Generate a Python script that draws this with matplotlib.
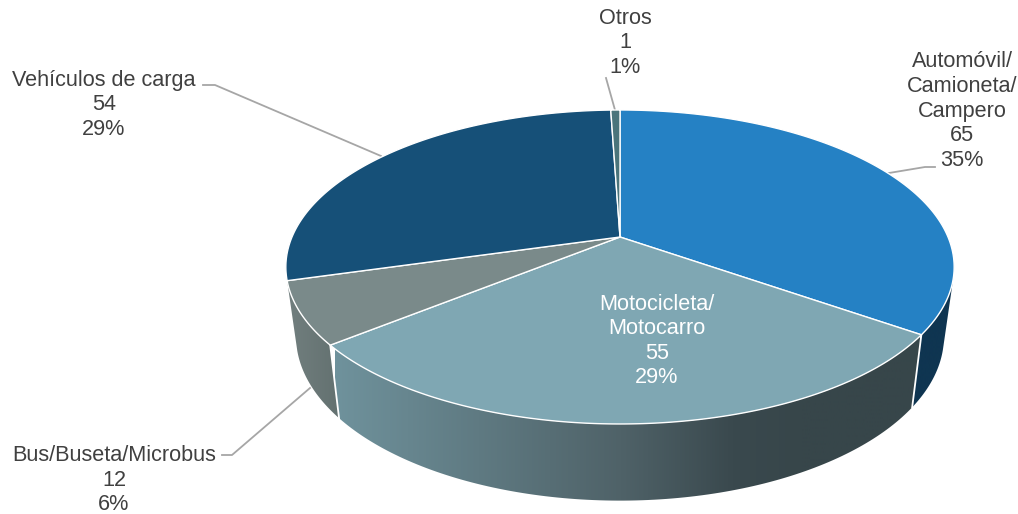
import numpy as np
import matplotlib
matplotlib.use('Agg')
import matplotlib.pyplot as plt
from matplotlib.colors import LinearSegmentedColormap
from matplotlib.patches import Polygon

plt.rcParams['font.family'] = ['Liberation Sans', 'DejaVu Sans']

# Data #

names = ['Automóvil/\nCamioneta/\nCampero', 'Motocicleta/\nMotocarro', 'Bus/Buseta/Microbus', 'Vehículos de carga', 'Otros']
values = [65, 55, 12, 54, 1]
top_colors = ['#2581c4', '#7fa7b3', '#7a8a8a', '#165078', '#4a747b']
text_colors = ['#404040', '#ffffff', '#404040', '#404040', '#404040']
label_pos = [(962, 111), (657, 341), (114, 480), (104, 105), (625, 43)]
leaders = [
    [(935, 167), (925, 167), (889, 173)],
    None,
    [(222, 455), (232, 455), (310, 388)],
    [(203, 85), (215, 85), (381, 156)],
    [(606, 78), (615, 110)],
]

# Pie projection (pixels) #

cx = 620
persp = -0.191
top_r, top_a, top_b = 328, 237, 106
low_r, low_a, low_b = 318, 305, 100
white = '#ffffff'

def rim(deg, r, a, b):
    t = np.radians(deg)
    u, v = np.sin(t), -np.cos(t)
    d = 1 + persp * v
    return np.column_stack((cx + r * u / d, (a + b * v) / d))

def top_rim(deg):
    return rim(deg, top_r, top_a, top_b)

def low_rim(deg):
    return rim(deg, low_r, low_a, low_b)

def side_poly(start, end):
    deg = np.linspace(start, end, 120)
    return np.vstack((top_rim(deg), low_rim(deg)[::-1]))

def draw_side(ax, start, end, stops, x0, x1):
    cmap = LinearSegmentedColormap.from_list('side', stops)
    img = ax.imshow(np.linspace(0, 1, 512).reshape(1, -1), cmap=cmap, extent=(x0, x1, 514, 0),
                    aspect='auto', zorder=2, interpolation='bilinear')
    clip = Polygon(side_poly(start, end), closed=True, transform=ax.transData, fc='none', ec='none')
    ax.add_patch(clip)
    img.set_clip_path(clip)

fig = plt.figure(figsize=(10.18, 5.14), dpi=100)
ax = fig.add_axes([0, 0, 1, 1])

edges = np.concatenate(([0], np.cumsum(values))) / sum(values) * 360

# side walls: only the parts facing the viewer
draw_side(ax, 105, edges[1], ['#0f3551', '#0f3551'], 900, 960)
draw_side(ax, edges[1], edges[2], [(0, '#6f929c'), (0.49, '#4f6268'), (0.68, '#3a494e'), (0.8, '#37464a'), (1, '#37464a')], 335, 920)
draw_side(ax, edges[2], edges[3], ['#637170', '#727f7f'], 340, 285)

for e in (edges[1], edges[2]):
    seg = np.vstack((top_rim(e), low_rim(e)))
    ax.plot(seg[:, 0], seg[:, 1], color=white, lw=1.3, zorder=3)

# top face
apex = np.array([[cx, top_a]])
for i in range(len(values)):
    deg = np.linspace(edges[i], edges[i + 1], 200)
    ax.add_patch(Polygon(np.vstack((apex, top_rim(deg))), closed=True, fc=top_colors[i],
                         ec=white, lw=1.0, joinstyle='round', zorder=4))

# labels
total = sum(values)
for name, val, pos, col, line in zip(names, values, label_pos, text_colors, leaders):
    ax.text(pos[0], pos[1], f'{name}\n{val}\n{round(val / total * 100)}%', color=col, fontsize=15.6,
            ha='center', va='center', linespacing=1.22, zorder=6, multialignment='center')
    if line:
        ax.plot(*zip(*line), color='#a6a6a6', lw=1.3, zorder=1)

ax.set_xlim(0, 1018)
ax.set_ylim(514, 0)
ax.axis('off')

fig.savefig('out.png', dpi=100)
